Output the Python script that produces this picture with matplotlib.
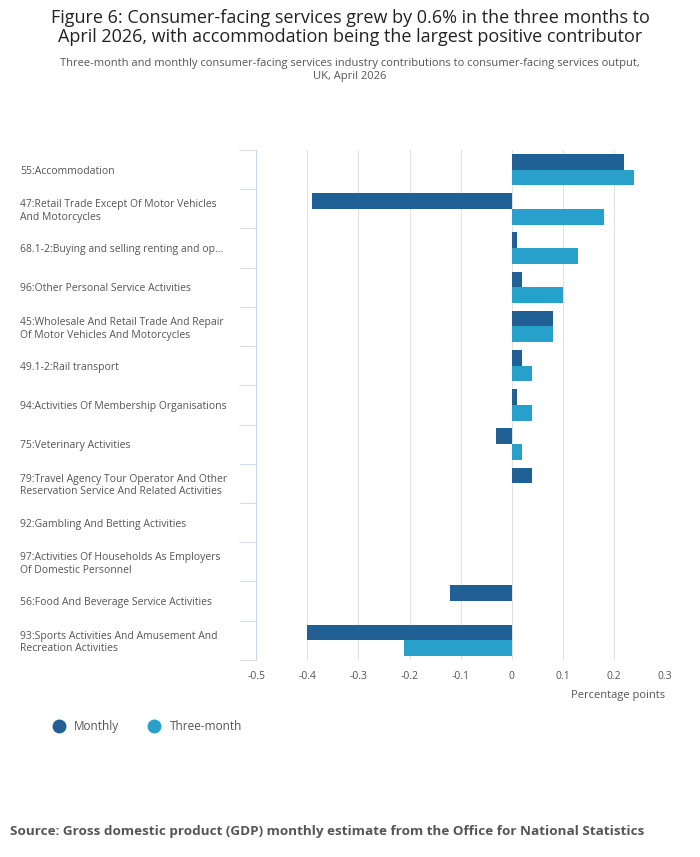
import matplotlib.pyplot as plt
from matplotlib.lines import Line2D
import numpy as np

plt.rcParams['font.family'] = ['Open Sans', 'DejaVu Sans']

categories = [
    "55:Accommodation",
    "47:Retail Trade Except Of Motor Vehicles\nAnd Motorcycles",
    "68.1-2:Buying and selling renting and op...",
    "96:Other Personal Service Activities",
    "45:Wholesale And Retail Trade And Repair\nOf Motor Vehicles And Motorcycles",
    "49.1-2:Rail transport",
    "94:Activities Of Membership Organisations",
    "75:Veterinary Activities",
    "79:Travel Agency Tour Operator And Other\nReservation Service And Related Activities",
    "92:Gambling And Betting Activities",
    "97:Activities Of Households As Employers\nOf Domestic Personnel",
    "56:Food And Beverage Service Activities",
    "93:Sports Activities And Amusement And\nRecreation Activities",
]
monthly = [0.22, -0.39, 0.01, 0.02, 0.08, 0.02, 0.01, -0.03, 0.04, 0, 0, -0.12, -0.40]
three_month = [0.24, 0.18, 0.13, 0.10, 0.08, 0.04, 0.04, 0.02, 0, 0, 0, 0, -0.21]

fig = plt.figure(figsize=(7, 8.57), dpi=100)
ax = fig.add_axes([0.366, 0.23, 0.584, 0.595])

y = np.arange(len(categories))
h = 0.4
ax.barh(y - h / 2, monthly, height=h, color="#206095", zorder=3)
ax.barh(y + h / 2, three_month, height=h, color="#27a0cc", zorder=3)
ax.set_ylim(len(categories) - 0.5, -0.5)
ax.set_xlim(-0.5, 0.3)
ax.set_xticks([-0.5, -0.4, -0.3, -0.2, -0.1, 0, 0.1, 0.2, 0.3])
ax.set_xticklabels(["-0.5", "-0.4", "-0.3", "-0.2", "-0.1", "0", "0.1", "0.2", "0.3"])
ax.set_yticks(y)
ax.set_yticklabels(categories, fontsize=7.5, color="#555555", ha="left")
ax.tick_params(axis="y", length=0, pad=170)
ax.set_yticks(np.arange(len(categories) + 1) - 0.5, minor=True)
ax.tick_params(axis="y", which="minor", length=12, color="#c9d7e6")
ax.tick_params(axis="x", length=0, labelsize=7.5, colors="#555555", pad=8)
ax.grid(axis="x", color="#e2e2e2", lw=0.8, zorder=0)
for s in ["top", "right", "bottom"]:
    ax.spines[s].set_visible(False)
ax.spines["left"].set_color("#c9d7e6")
ax.set_xlabel("Percentage points", fontsize=8, color="#555555", loc="right", labelpad=6)

handles = [Line2D([], [], marker="o", ls="", color="#206095", markersize=9),
           Line2D([], [], marker="o", ls="", color="#27a0cc", markersize=9)]
fig.legend(handles, ["Monthly", "Three-month"], loc="upper left",
           bbox_to_anchor=(0.06, 0.172), ncol=2, frameon=False,
           fontsize=8.5, labelcolor="#555555", handlelength=1.0, columnspacing=2.5)

fig.text(0.5, 0.99, "Figure 6: Consumer-facing services grew by 0.6% in the three months to\n"
         "April 2026, with accommodation being the largest positive contributor",
         ha="center", va="top", fontsize=13, color="#222222", linespacing=1.1)
fig.text(0.5, 0.932, "Three-month and monthly consumer-facing services industry contributions to consumer-facing services output,\nUK, April 2026",
         ha="center", va="top", fontsize=8, color="#555555")
fig.text(0.015, 0.022, "Source: Gross domestic product (GDP) monthly estimate from the Office for National Statistics",
         ha="left", va="bottom", fontsize=9.7, fontweight="bold", color="#555555")

fig.savefig("out.png", dpi=100)
